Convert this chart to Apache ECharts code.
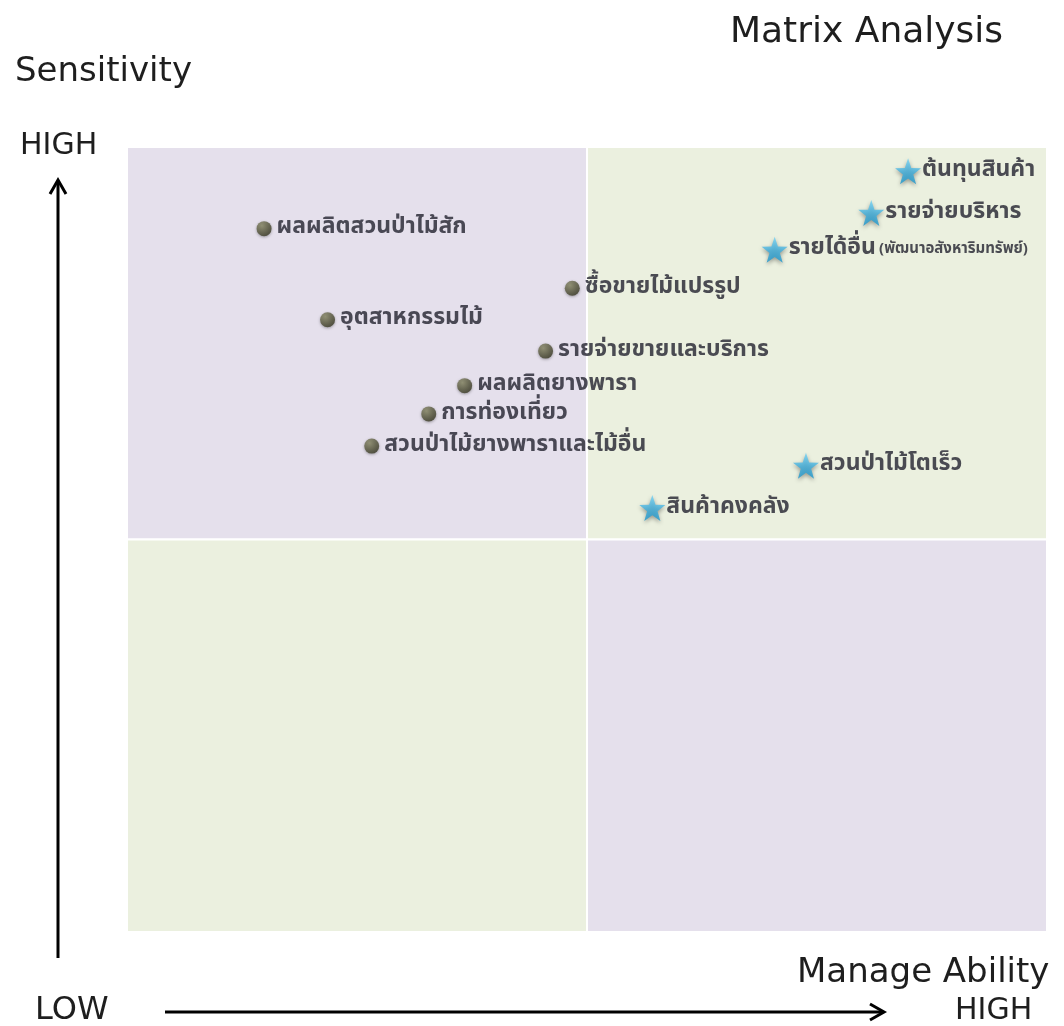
<!DOCTYPE html>
<html><head><meta charset="utf-8">
<script src="https://cdn.jsdelivr.net/npm/echarts@6/dist/echarts.min.js"></script>
<style>html,body{margin:0;padding:0;background:#fff}#c{width:1064px;height:1026px}</style>
</head><body><div id="c"></div>
<script>
const circleNames = ['ผลผลิตสวนป่าไม้สัก','ซื้อขายไม้แปรรูป','อุตสาหกรรมไม้','รายจ่ายขายและบริการ','ผลผลิตยางพารา','การท่องเที่ยว','สวนป่าไม้ยางพาราและไม้อื่น'];
const circleX = [14.9, 48.4, 21.8, 45.5, 36.7, 32.8, 26.6];
const circleY = [89.6, 82.0, 78.0, 74.0, 69.6, 66.0, 61.9];
const starNames = ['ต้นทุนสินค้า','รายจ่ายบริหาร','รายได้อื่น','สวนป่าไม้โตเร็ว','สินค้าคงคลัง'];
const starNotes = ['','','(พัฒนาอสังหาริมทรัพย์)','',''];
const starX = [84.9, 80.9, 70.4, 73.8, 57.1];
const starY = [96.9, 91.6, 86.9, 59.4, 54.0];
const quadrants = [[0,50,50,100,'#e5e0ec'],[50,50,100,100,'#ebf0df'],[0,0,50,50,'#ebf0df'],[50,0,100,50,'#e5e0ec']];

const FONT = '"DejaVu Sans","Noto Sans",sans-serif';
const THAI = '"Noto Sans Thai","Noto Sans Thai UI","Tahoma","Noto Sans",sans-serif';
const STAR = 'path://M100,0 L123.5,67.6 L195.1,69.1 L138,112.4 L158.8,180.9 L100,140 L41.2,180.9 L62,112.4 L4.9,69.1 L76.5,67.6 Z';

function txt(t, x, y, s){
  return {type:'text',style:{text:t,x:x,y:y,font:s+'px '+FONT,fill:'#1e1e1e',verticalAlign:'middle',align:'left'}};
}

const chart = echarts.init(document.getElementById('c'));
chart.setOption({
  backgroundColor:'#fff',
  animation:false,
  grid:{left:127,right:17,top:147,bottom:94},
  xAxis:{type:'value',min:0,max:100,show:false},
  yAxis:{type:'value',min:0,max:100,show:false},
  graphic:[
    txt('Matrix Analysis',730,33,36),
    txt('Sensitivity',15,72,34),
    txt('HIGH',20,146,30),
    txt('Manage Ability',797,973,34),
    txt('LOW',35,1011,32),
    txt('HIGH',955,1011,30),
    {type:'line',shape:{x1:58,y1:958,x2:58,y2:182},style:{stroke:'#000',lineWidth:3}},
    {type:'polyline',shape:{points:[[50,194],[58,180],[66,194]]},style:{stroke:'#000',lineWidth:3,fill:null}},
    {type:'line',shape:{x1:165,y1:1012,x2:882,y2:1012},style:{stroke:'#000',lineWidth:3}},
    {type:'polyline',shape:{points:[[870,1004],[884,1012],[870,1020]]},style:{stroke:'#000',lineWidth:3,fill:null}}
  ],
  series:[
    {
      type:'scatter',data:[],silent:true,
      markArea:{silent:true,data:quadrants.map(q=>[{xAxis:q[0],yAxis:q[1],itemStyle:{color:q[4],borderColor:'#fff',borderWidth:2}},{xAxis:q[2],yAxis:q[3]}])}
    },
    {
      type:'scatter',symbol:'circle',symbolSize:15,
      data:circleX.map((x,i)=>({value:[x,circleY[i]],name:circleNames[i]})),
      itemStyle:{color:new echarts.graphic.RadialGradient(0.35,0.3,0.8,[{offset:0,color:'#8c8c68'},{offset:1,color:'#33331f'}]),shadowBlur:3,shadowColor:'rgba(0,0,0,0.4)',shadowOffsetY:1},
      label:{show:true,position:'right',distance:5,formatter:'{b}',fontFamily:THAI,fontSize:23,fontWeight:'bold',color:'#22222e'}
    },
    {
      type:'scatter',symbol:STAR,symbolSize:26,
      data:starX.map((x,i)=>({value:[x,starY[i]],name:starNames[i],note:starNotes[i]})),
      itemStyle:{color:new echarts.graphic.LinearGradient(0,0,0,1,[{offset:0,color:'#6fd0f5'},{offset:1,color:'#1a95cc'}]),shadowBlur:4,shadowColor:'rgba(0,0,0,0.45)',shadowOffsetY:2},
      label:{show:true,position:'right',distance:1,color:'#22222e',
        formatter:p=>p.data.note?('{m|'+p.name+'} {s|'+p.data.note+'}'):('{m|'+p.name+'}'),
        rich:{m:{fontFamily:THAI,fontSize:23,fontWeight:'bold',color:'#22222e'},s:{fontFamily:THAI,fontSize:15,fontWeight:'bold',color:'#22222e'}}}
    }
  ]
});
</script></body></html>
